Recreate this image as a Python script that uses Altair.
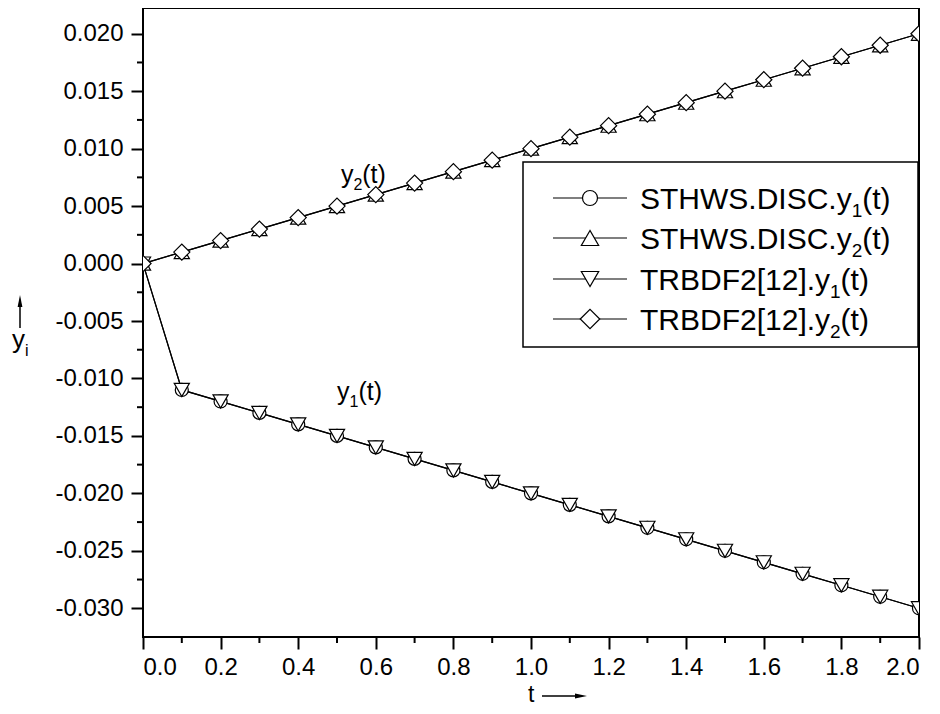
import altair as alt
import pandas as pd

# ---------------- data ----------------
t = [0.0, 0.1, 0.2, 0.3, 0.4, 0.5, 0.6, 0.7, 0.8, 0.9, 1.0,
     1.1, 1.2, 1.3, 1.4, 1.5, 1.6, 1.7, 1.8, 1.9, 2.0]
sthws_y1 = [0.0, -0.011, -0.012, -0.013, -0.014, -0.015, -0.016, -0.017, -0.018, -0.019, -0.020,
            -0.021, -0.022, -0.023, -0.024, -0.025, -0.026, -0.027, -0.028, -0.029, -0.030]
sthws_y2 = [0.0, 0.001, 0.002, 0.003, 0.004, 0.005, 0.006, 0.007, 0.008, 0.009, 0.010,
            0.011, 0.012, 0.013, 0.014, 0.015, 0.016, 0.017, 0.018, 0.019, 0.020]
trbdf2_y1 = [0.0, -0.011, -0.012, -0.013, -0.014, -0.015, -0.016, -0.017, -0.018, -0.019, -0.020,
             -0.021, -0.022, -0.023, -0.024, -0.025, -0.026, -0.027, -0.028, -0.029, -0.030]
trbdf2_y2 = [0.0, 0.001, 0.002, 0.003, 0.004, 0.005, 0.006, 0.007, 0.008, 0.009, 0.010,
             0.011, 0.012, 0.013, 0.014, 0.015, 0.016, 0.017, 0.018, 0.019, 0.020]

series_ids = ["STHWS.DISC.y1(t)", "STHWS.DISC.y2(t)", "TRBDF2[12].y1(t)", "TRBDF2[12].y2(t)"]
legend_main = ["STHWS.DISC.y", "STHWS.DISC.y", "TRBDF2[12].y", "TRBDF2[12].y"]
legend_sub = ["1", "2", "1", "2"]
legend_tail = ["(t)", "(t)", "(t)", "(t)"]
shapes = ["circle", "triangle-up", "triangle-down", "diamond"]

ann_sub = ["2", "1"]          # curve labels y2(t), y1(t)
ann_t = [0.51, 0.50]
ann_y = [0.0077, -0.0112]

x_ticks = [0.0, 0.2, 0.4, 0.6, 0.8, 1.0, 1.2, 1.4, 1.6, 1.8, 2.0]
x_minor = [0.1, 0.3, 0.5, 0.7, 0.9, 1.1, 1.3, 1.5, 1.7, 1.9]
y_ticks = [-0.030, -0.025, -0.020, -0.015, -0.010, -0.005, 0.000, 0.005, 0.010, 0.015, 0.020]
y_minor = [-0.0275, -0.0225, -0.0175, -0.0125, -0.0075, -0.0025, 0.0025, 0.0075, 0.0125, 0.0175]

# ---------------- layout / style ----------------
FONT = "Liberation Sans"
W, H = 776, 629
YDOM = [-0.0325, 0.02224]
TICK_FS = 24

ARIAL = {'S': 667, 'T': 611, 'H': 722, 'W': 944, '.': 278, 'D': 722, 'I': 278, 'C': 722,
         'y': 500, 'R': 722, 'B': 667, 'F': 611, '[': 278, ']': 278, '(': 333, ')': 333,
         't': 278, 'i': 222}


def tw(s, fs):
    return sum(ARIAL.get(c, 556) for c in s) * fs / 1000.0


def txt(s, x, y, fs):
    return alt.Chart(pd.DataFrame({"s": [s]})).mark_text(
        align="left", baseline="alphabetic", font=FONT, fontSize=fs, color="black"
    ).encode(text="s:N", x=alt.value(x), y=alt.value(y))


def rich(parts, x0, base, fs, sfs, drop):
    out = []
    x = x0
    for s, sub in parts:
        f = sfs if sub else fs
        out.append(txt(s, x, base + (drop if sub else 0), f))
        x += tw(s, f)
    return out


xs = alt.Scale(domain=[0, 2], nice=False, zero=False)
ys = alt.Scale(domain=YDOM, nice=False, zero=False)

rows = []
for sid, ys_ in zip(series_ids, [sthws_y1, sthws_y2, trbdf2_y1, trbdf2_y2]):
    for ti, yi in zip(t, ys_):
        rows.append({"series": sid, "t": ti, "y": yi})
df = pd.DataFrame(rows)

x_axis = alt.Axis(values=x_ticks, labelExpr="format(datum.value, '.1f')", title=None,
                  grid=False, domain=False, tickSize=12, tickWidth=2, tickColor="black",
                  labelFont=FONT, labelFontSize=TICK_FS, labelColor="black", labelPadding=6)
y_axis = alt.Axis(values=y_ticks,
                  labelExpr="(datum.value < -0.0001 ? '-' : '') + format(abs(datum.value), '.3f')",
                  title=None, grid=False, domain=False, tickSize=12, tickWidth=2,
                  tickColor="black", labelFont=FONT, labelFontSize=TICK_FS, labelColor="black",
                  labelPadding=8)

X = alt.X("t:Q", scale=xs, axis=x_axis)
Y = alt.Y("y:Q", scale=ys, axis=y_axis)

lines = alt.Chart(df).mark_line(color="black", strokeWidth=1.2, clip=True).encode(
    x=X, y=Y, detail="series:N", order="t:Q")

msize = {"circle": 170, "triangle-up": 230, "triangle-down": 230, "diamond": 260}
point_layers = []
for sid, shp in zip(series_ids, shapes):
    point_layers.append(
        alt.Chart(df[df.series == sid]).mark_point(
            shape=shp, size=msize[shp], filled=True, fill="white", stroke="black",
            strokeWidth=1.2, opacity=1, clip=True
        ).encode(x=X, y=Y)
    )

ytick_minor = alt.Chart(pd.DataFrame({"y": y_minor})).mark_rule(color="black", strokeWidth=2).encode(
    y=Y, x=alt.value(-6), x2=alt.value(0))
xtick_minor = alt.Chart(pd.DataFrame({"t": x_minor})).mark_rule(color="black", strokeWidth=2).encode(
    x=X, y=alt.value(H), y2=alt.value(H + 6))

# curve labels y2(t), y1(t) anchored in data space
ann_df = pd.DataFrame({"t": ann_t, "y": ann_y, "sub": ann_sub})
AFS, ASFS = 25, 16
ann = []
for piece, fs, dxo, dyo in [("y", AFS, 0, 8), ("sub", ASFS, tw("y", AFS), 15),
                            ("(t)", AFS, tw("y", AFS) + tw("1", ASFS), 8)]:
    enc = {"x": X, "y": Y}
    if piece == "sub":
        enc["text"] = alt.Text("sub:N")
    else:
        enc["text"] = alt.value(piece)
    ann.append(alt.Chart(ann_df).mark_text(
        align="left", baseline="alphabetic", font=FONT, fontSize=fs, color="black",
        dx=dxo, dy=dyo).encode(**enc))

# legend
LX0, LX1, LY0, LY1 = 380, W - 1, 154, 339
legend_layers = [
    alt.Chart(pd.DataFrame({"a": [0]})).mark_rect(fill="white", stroke="black", strokeWidth=1.5).encode(
        x=alt.value(LX0), x2=alt.value(LX1), y=alt.value(LY0), y2=alt.value(LY1))
]
LFS = 30
row_y = [190, 230, 271, 311]
lsize = {"circle": 225, "triangle-up": 300, "triangle-down": 300, "diamond": 380}
for i in range(4):
    cy = row_y[i]
    legend_layers.append(
        alt.Chart(pd.DataFrame({"a": [0]})).mark_rule(color="black", strokeWidth=1.2).encode(
            x=alt.value(410), x2=alt.value(484), y=alt.value(cy)))
    legend_layers.append(
        alt.Chart(pd.DataFrame({"a": [0]})).mark_point(
            shape=shapes[i], size=lsize[shapes[i]], filled=True, fill="white", stroke="black",
            strokeWidth=1.2, opacity=1).encode(x=alt.value(447), y=alt.value(cy)))
    legend_layers += rich([(legend_main[i], False), (legend_sub[i], True), (legend_tail[i], False)],
                          497, cy + 11, LFS, 19, 8)

# axis titles
titles = []
titles += rich([("y", False), ("i", True)], -131, 340, 26, 16, 8)
titles.append(alt.Chart(pd.DataFrame({"a": [0]})).mark_rule(color="black", strokeWidth=1.5).encode(
    x=alt.value(-123), y=alt.value(292), y2=alt.value(320)))
titles.append(alt.Chart(pd.DataFrame({"a": [0]})).mark_point(
    shape="M-0.4,1L0,-1L0.4,1Z", size=144, filled=True, color="black", opacity=1).encode(
    x=alt.value(-123), y=alt.value(293)))
titles += rich([("t", False)], 385, 694, 23, 16, 7)
titles.append(alt.Chart(pd.DataFrame({"a": [0]})).mark_rule(color="black", strokeWidth=1.5).encode(
    x=alt.value(399), x2=alt.value(437), y=alt.value(688)))
titles.append(alt.Chart(pd.DataFrame({"a": [0]})).mark_point(
    shape="M-1,-0.4L1,0L-1,0.4Z", size=144, filled=True, color="black", opacity=1).encode(
    x=alt.value(438), y=alt.value(688)))

chart = alt.layer(
    lines, *point_layers, ytick_minor, xtick_minor, *ann, *legend_layers, *titles
).properties(
    width=W, height=H,
    autosize=alt.AutoSizeParams(type="none"),
    padding={"left": 135, "top": 0, "right": 5, "bottom": 70},
).configure_view(stroke="black", strokeWidth=2)

chart.save("out.html", embed_options={"renderer": "svg", "actions": False})
